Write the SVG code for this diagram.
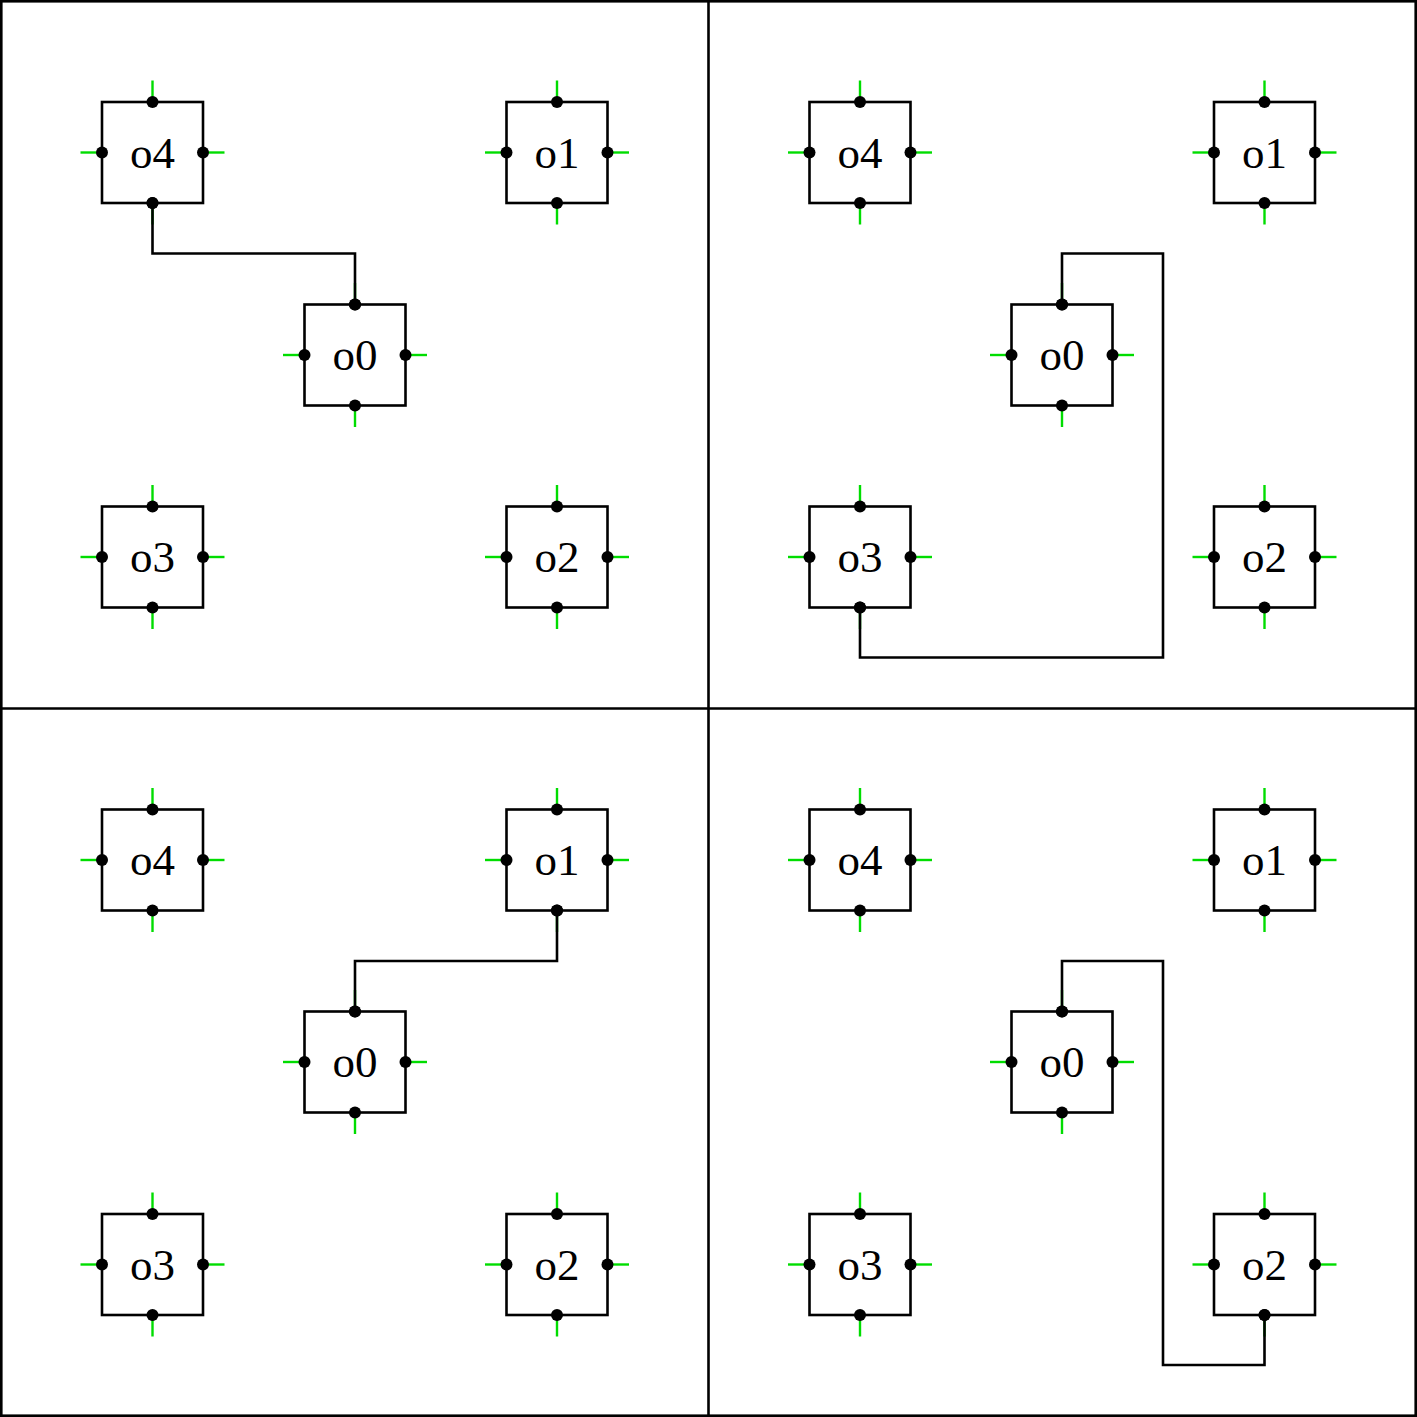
<svg xmlns="http://www.w3.org/2000/svg" xmlns:xlink="http://www.w3.org/1999/xlink" width="1417" height="1417" viewBox="0 0 1417 1417">
<style>
.frame{fill:none;stroke:#000;stroke-width:2.6}
.box{fill:#fff;stroke:#000;stroke-width:2.6}
.tick{stroke:#00dd00;stroke-width:2.4}
.dot{fill:#000}
.lbl{font-family:"Liberation Serif","DejaVu Serif",serif;font-size:45px;fill:#000;text-anchor:middle}
.wire{fill:none;stroke:#000;stroke-width:2.6}
</style>
<defs>
<g id="node">
<line class="tick" x1="0" y1="-50.5" x2="0" y2="-72"/>
<line class="tick" x1="0" y1="50.5" x2="0" y2="72"/>
<line class="tick" x1="-50.5" y1="0" x2="-72" y2="0"/>
<line class="tick" x1="50.5" y1="0" x2="72" y2="0"/>
<rect class="box" x="-50.5" y="-50.5" width="101" height="101"/>
<circle class="dot" cx="0" cy="-50.5" r="6"/>
<circle class="dot" cx="0" cy="50.5" r="6"/>
<circle class="dot" cx="-50.5" cy="0" r="6"/>
<circle class="dot" cx="50.5" cy="0" r="6"/>
</g>
</defs>
<rect x="0" y="0" width="1417" height="1417" fill="#fff"/>
<g id="frames">
<rect class="frame" x="1.3" y="1.3" width="1414.4" height="1414.4"/>
<line class="frame" x1="708.5" y1="0" x2="708.5" y2="1417"/>
<line class="frame" x1="0" y1="708.5" x2="1417" y2="708.5"/>
</g>
<g id="panel1">
<g id="p1-o4" transform="translate(152.5,152.5)"><use xlink:href="#node"/><text class="lbl" x="0" y="15">o4</text></g>
<g id="p1-o1" transform="translate(557,152.5)"><use xlink:href="#node"/><text class="lbl" x="0" y="15">o1</text></g>
<g id="p1-o0" transform="translate(355,355)"><use xlink:href="#node"/><text class="lbl" x="0" y="15">o0</text></g>
<g id="p1-o3" transform="translate(152.5,557)"><use xlink:href="#node"/><text class="lbl" x="0" y="15">o3</text></g>
<g id="p1-o2" transform="translate(557,557)"><use xlink:href="#node"/><text class="lbl" x="0" y="15">o2</text></g>
</g>
<g id="panel2">
<g id="p2-o4" transform="translate(860,152.5)"><use xlink:href="#node"/><text class="lbl" x="0" y="15">o4</text></g>
<g id="p2-o1" transform="translate(1264.5,152.5)"><use xlink:href="#node"/><text class="lbl" x="0" y="15">o1</text></g>
<g id="p2-o0" transform="translate(1062,355)"><use xlink:href="#node"/><text class="lbl" x="0" y="15">o0</text></g>
<g id="p2-o3" transform="translate(860,557)"><use xlink:href="#node"/><text class="lbl" x="0" y="15">o3</text></g>
<g id="p2-o2" transform="translate(1264.5,557)"><use xlink:href="#node"/><text class="lbl" x="0" y="15">o2</text></g>
</g>
<g id="panel3">
<g id="p3-o4" transform="translate(152.5,860)"><use xlink:href="#node"/><text class="lbl" x="0" y="15">o4</text></g>
<g id="p3-o1" transform="translate(557,860)"><use xlink:href="#node"/><text class="lbl" x="0" y="15">o1</text></g>
<g id="p3-o0" transform="translate(355,1062)"><use xlink:href="#node"/><text class="lbl" x="0" y="15">o0</text></g>
<g id="p3-o3" transform="translate(152.5,1264.5)"><use xlink:href="#node"/><text class="lbl" x="0" y="15">o3</text></g>
<g id="p3-o2" transform="translate(557,1264.5)"><use xlink:href="#node"/><text class="lbl" x="0" y="15">o2</text></g>
</g>
<g id="panel4">
<g id="p4-o4" transform="translate(860,860)"><use xlink:href="#node"/><text class="lbl" x="0" y="15">o4</text></g>
<g id="p4-o1" transform="translate(1264.5,860)"><use xlink:href="#node"/><text class="lbl" x="0" y="15">o1</text></g>
<g id="p4-o0" transform="translate(1062,1062)"><use xlink:href="#node"/><text class="lbl" x="0" y="15">o0</text></g>
<g id="p4-o3" transform="translate(860,1264.5)"><use xlink:href="#node"/><text class="lbl" x="0" y="15">o3</text></g>
<g id="p4-o2" transform="translate(1264.5,1264.5)"><use xlink:href="#node"/><text class="lbl" x="0" y="15">o2</text></g>
</g>
<g id="connectors">
<path class="wire" d="M152.5,203 V253.5 H355 V304.5"/>
<path class="wire" d="M1062,304.5 V253.5 H1163 V657.5 H860 V607.5"/>
<path class="wire" d="M557,910.5 V961 H355 V1011.5"/>
<path class="wire" d="M1062,1011.5 V961 H1163 V1365 H1264.5 V1315"/>
<g class="dot">
<circle cx="152.5" cy="203" r="6"/><circle cx="355" cy="304.5" r="6"/>
<circle cx="1062" cy="304.5" r="6"/><circle cx="860" cy="607.5" r="6"/>
<circle cx="557" cy="910.5" r="6"/><circle cx="355" cy="1011.5" r="6"/>
<circle cx="1062" cy="1011.5" r="6"/><circle cx="1264.5" cy="1315" r="6"/>
</g>
</g>
</svg>
